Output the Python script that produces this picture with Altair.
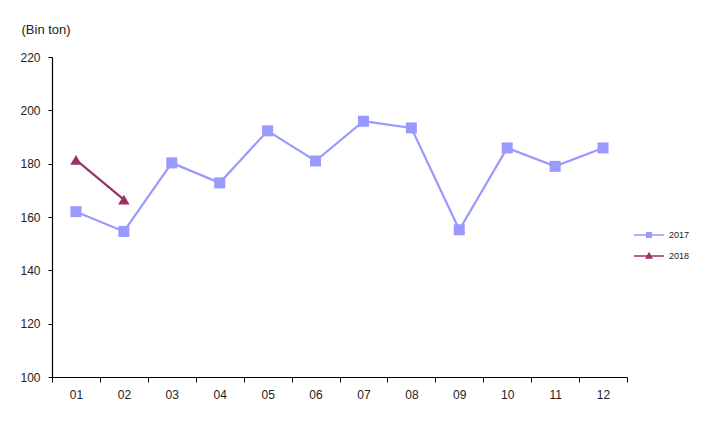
import altair as alt
import pandas as pd

months = ["01", "02", "03", "04", "05", "06", "07", "08", "09", "10", "11", "12"]
values_2017 = [162, 154.6, 180.3, 172.8, 192.3, 181, 195.9, 193.4, 155.2, 185.9, 179, 185.9]
months_2018 = ["01", "02"]
values_2018 = [181.4, 166.5]
series_names = ["2017", "2018"]
series_colors = ["#9999FF", "#993366"]
y_ticks = [100, 120, 140, 160, 180, 200, 220]

df = pd.DataFrame(
    [{"month": m, "value": v, "series": "2017"} for m, v in zip(months, values_2017)]
    + [{"month": m, "value": v, "series": "2018"} for m, v in zip(months_2018, values_2018)]
)

FONT = "Liberation Sans"

x = alt.X(
    "month:N",
    sort=months,
    scale=alt.Scale(type="band", paddingInner=0, paddingOuter=0, domain=months),
    axis=alt.Axis(
        title=None, labelAngle=0, tickBand="extent", tickSize=5, labelPadding=7,
        labelFontSize=12, labelFont=FONT, labelColor="#222222",
        domainColor="#000000", tickColor="#000000", domainWidth=1.2, tickWidth=1,
    ),
)
y = alt.Y(
    "value:Q",
    scale=alt.Scale(domain=[100, 220], nice=False, zero=False),
    axis=alt.Axis(
        values=y_ticks, grid=False, tickSize=4, labelPadding=8,
        labelFontSize=12, labelFont=FONT, labelColor="#222222",
        domainColor="#000000", tickColor="#000000", domainWidth=1.2, tickWidth=1,
        title="(Bin ton)", titleAngle=0, titleX=-31, titleY=-28,
        titleAlign="left", titleBaseline="middle", titleFontSize=13,
        titleFont=FONT, titleFontWeight="normal", titleColor="#222222",
    ),
)

sq_path = "M-1,0H1M-0.16,-0.16H0.16V0.16H-0.16Z"
tri_path = "M-1,0H1M0,-0.2L0.19,0.14H-0.19Z"

legend = alt.Legend(
    orient="none", legendX=581, legendY=169,
    symbolSize=900, symbolStrokeWidth=1.3,
    symbolType=alt.ExprRef(expr=f"datum.value == '2018' ? '{tri_path}' : '{sq_path}'"),
    labelFontSize=9, labelFont=FONT, labelColor="#222222",
    labelOffset=4, clipHeight=18, rowPadding=3,
)
color = alt.Color(
    "series:N",
    scale=alt.Scale(domain=series_names, range=series_colors),
    legend=legend, title="",
)

base = alt.Chart(df)

lines = base.mark_line(strokeWidth=2.2).encode(x=x, y=y, color=color)

pts_2017 = base.transform_filter(alt.datum.series == "2017").mark_point(
    shape="square", filled=True, size=121, opacity=1
).encode(x=x, y=y, color=color)

pts_2018 = base.transform_filter(alt.datum.series == "2018").mark_point(
    shape="triangle-up", filled=True, size=130, opacity=1
).encode(x=x, y=y, color=color)

chart = alt.layer(lines, pts_2017, pts_2018).properties(
    width=575, height=320,
    autosize=alt.AutoSizeParams(type="none"),
    padding={"left": 44, "top": 49, "right": 70, "bottom": 45},
    background="#ffffff",
).configure_view(stroke=None)

chart.save("out.html", embed_options={"renderer": "svg", "actions": False})
